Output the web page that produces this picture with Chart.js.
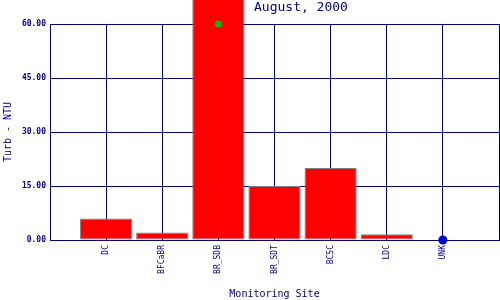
<!DOCTYPE html>
<html>
<head>
<meta charset="utf-8">
<script src="https://cdn.jsdelivr.net/npm/chart.js@4/dist/chart.umd.min.js"></script>
<style>
  html, body { margin: 0; padding: 0; background: #fff; }
  #wrap { width: 500px; height: 300px; }
</style>
</head>
<body>
<div id="wrap"><canvas id="myChart"></canvas></div>
<script>
// DATA ----------------------------------------------------------------
// empty slots at both ends keep the sites one step in from the borders
var sites = ["", "DC", "BFCaBR", "BR_SDB", "BR_SDT", "BCSC", "LDC", "UNK", ""];
var turbidity = [null, 6.0, 2.1, 70, 15.0, 20.0, 1.6, null, null];
var markerValues = [null, null, null, 60, null, null, null, 0, null];
var markerColors = ["", "", "", "#00c000", "", "", "", "#0000cc", ""];
var yTicks = [0, 15, 30, 45, 60];

var navy = "#000080";
var mono = "'DejaVu Sans Mono', 'Liberation Mono', monospace";

// TITLE PLUGIN --------------------------------------------------------
var titlePlugin = {
  id: "topTitle",
  afterDraw: function(chart) {
    var ctx = chart.ctx;
    ctx.save();
    ctx.fillStyle = navy;
    ctx.font = "13px " + mono;
    ctx.textAlign = "left";
    ctx.textBaseline = "middle";
    ctx.fillText("August, 2000", 254, 8);
    ctx.restore();
  }
};

// CHART ---------------------------------------------------------------
function createChart() {
  var ctx = document.getElementById("myChart").getContext("2d");
  new Chart(ctx, {
    type: "bar",
    data: {
      labels: sites,
      datasets: [{
        type: "line",
        label: "markers",
        data: markerValues,
        showLine: false,
        pointRadius: [0, 0, 0, 3.5, 0, 0, 0, 4.5, 0],
        pointBackgroundColor: markerColors,
        pointBorderColor: markerColors,
        pointBorderWidth: 0,
        clip: false,
        order: 0
      }, {
        label: "Turb - NTU",
        data: turbidity,
        backgroundColor: "#ff0000",
        borderColor: "#808080",
        borderWidth: 1,
        borderSkipped: false,
        barPercentage: 0.93,
        categoryPercentage: 1.0,
        clip: false,
        order: 1
      }]
    },
    options: {
      responsive: true,
      maintainAspectRatio: false,
      animation: false,
      layout: { padding: { top: 24, right: 1, left: 0, bottom: 0 } },
      plugins: {
        legend: { display: false },
        title: { display: false },
        tooltip: { enabled: false }
      },
      scales: {
        x: {
          offset: false,
          afterFit: function(scale) {
            scale.height = 60;
            scale.paddingLeft = 0;
            scale.paddingRight = 0;
          },
          grid: { color: navy, lineWidth: 1, tickLength: 0, offset: false },
          border: { color: navy, width: 1 },
          ticks: {
            color: navy,
            font: { family: mono, size: 8 },
            minRotation: 90,
            maxRotation: 90,
            padding: 5,
            autoSkip: false
          },
          title: {
            display: true,
            text: "Monitoring Site",
            color: navy,
            font: { family: mono, size: 10 },
            padding: 0
          }
        },
        y: {
          min: 0,
          max: 60,
          afterFit: function(scale) {
            scale.width = 50;
            scale.paddingTop = 0;
            scale.paddingBottom = 0;
          },
          afterBuildTicks: function(scale) {
            scale.ticks = yTicks.map(function(v) { return { value: v }; });
          },
          grid: { color: navy, lineWidth: 1, tickLength: 0 },
          border: { color: navy, width: 1 },
          ticks: {
            color: navy,
            font: { family: mono, size: 8, weight: "bold" },
            padding: 4,
            callback: function(v) { return Number(v).toFixed(2); }
          },
          title: {
            display: true,
            text: "Turb - NTU",
            color: navy,
            font: { family: mono, size: 10 },
            padding: 2
          }
        }
      }
    },
    plugins: [titlePlugin]
  });
}

createChart();
</script>
</body>
</html>
